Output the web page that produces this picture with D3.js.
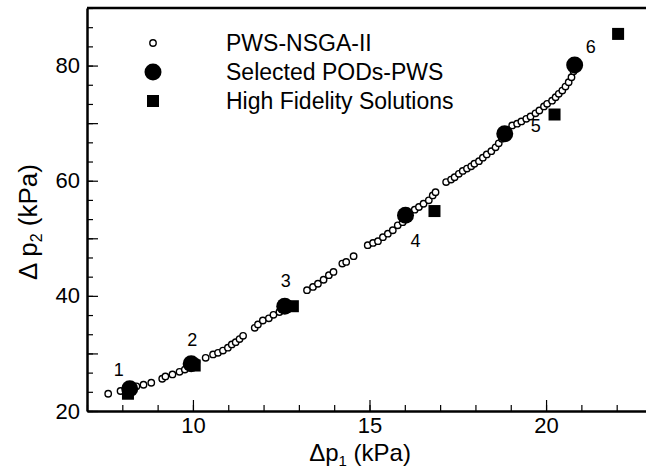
<!DOCTYPE html>
<html lang="en">
<head>
<meta charset="UTF-8">
<title>Pareto front</title>
<script src="https://cdn.jsdelivr.net/npm/d3@7"></script>
<style>
    body { margin: 0; background: #fff; }
    svg text { font-family: "Liberation Sans", Arial, sans-serif; fill: #000; }
    .axis path, .axis line { stroke: #000; }
    .axis path { stroke-width: 2.5; }
    .axis line { stroke-width: 1.2; }
</style>
</head>
<body>
<div class="chart"></div>
<script>
// PWS-NSGA-II front (hollow circles)
var nsgaX = [7.60, 7.95, 8.10, 8.40, 8.60, 8.82, 9.13, 9.22, 9.42, 9.62, 9.77,
    10.10, 10.36, 10.57, 10.71, 10.85, 10.99, 11.10, 11.21, 11.32, 11.42,
    11.75, 11.84, 11.98, 12.15, 12.28, 12.45, 12.55,
    13.23, 13.40, 13.54, 13.70, 13.85, 13.98, 14.23, 14.34, 14.55,
    14.95, 15.10, 15.24, 15.38, 15.52, 15.66, 15.80, 15.94, 16.10,
    16.28, 16.40, 16.53, 16.68, 16.79, 16.87,
    17.17, 17.31, 17.41, 17.53, 17.64, 17.76, 17.88, 17.97, 18.10, 18.21, 18.32, 18.45, 18.57, 18.66, 18.75,
    18.90, 19.04, 19.18, 19.30, 19.44, 19.56, 19.70, 19.81, 19.94, 20.03, 20.17, 20.27, 20.36, 20.46, 20.55, 20.64, 20.72, 20.78];
var nsgaY = [23.0, 23.47, 23.7, 24.28, 24.56, 24.91, 25.6, 26.0, 26.36, 26.8, 27.2,
    28.5, 29.24, 29.83, 30.1, 30.5, 31.0, 31.56, 31.96, 32.5, 33.06,
    34.45, 35.03, 35.72, 36.1, 36.7, 37.2, 37.7,
    40.98, 41.55, 42.1, 42.8, 43.6, 44.15, 45.6, 45.9, 46.9,
    48.8, 49.2, 49.5, 50.2, 50.8, 51.4, 52.25, 52.8, 54.3,
    54.97, 55.43, 56.0, 56.6, 57.45, 58.0,
    59.76, 60.2, 60.6, 61.2, 61.7, 62.1, 62.5, 62.95, 63.4, 64.0, 64.56, 65.13, 65.8, 66.5, 67.3,
    68.8, 69.6, 69.9, 70.3, 70.75, 71.15, 71.7, 72.2, 72.9, 73.36, 73.9, 74.5, 75.1, 75.66, 76.35, 77.1, 77.97, 79.0];

// Selected PODs-PWS (filled circles)
var podX = [8.21, 9.95, 12.60, 16.02, 18.83, 20.81];
var podY = [23.87, 28.2, 38.2, 54.0, 68.15, 80.1];
var podLabels = ["1", "2", "3", "4", "5", "6"];

// High Fidelity Solutions (squares)
var hfX = [8.16, 10.05, 12.83, 16.84, 20.24, 22.04];
var hfY = [23.0, 27.9, 38.2, 54.73, 71.5, 85.5];

var xMinor = d3.range(7, 23, 1);
var xMajor = [10, 15, 20];
var yMinor = d3.range(0, 22).map(function(i) { return 20 + i * 10 / 3; });
var yMajor = [20, 30, 40, 50, 60, 70, 80];
var yLabelled = [20, 40, 60, 80];

var legendNames = ["PWS-NSGA-II", "Selected PODs-PWS", "High Fidelity Solutions"];

(function()
{
    "use strict";

    var width = 646, height = 475;
    var plot = { left: 87, top: 8, bottom: 411, right: 652 };

    // pixel offsets of the point numbers, relative to each selected POD
    var labelOffset = [[-11, -19], [1, -24], [1, -26], [10, 25], [31, -8], [16, -18]];

    var x = d3.scaleLinear().domain([7, 23]).range([plot.left, plot.right]);
    var y = d3.scaleLinear().domain([20, 90]).range([plot.bottom, plot.top]);

    var svg = d3.select(".chart").append("svg")
        .attr("width", width)
        .attr("height", height)
        .attr("viewBox", [0, 0, width, height].join(" "));

    // axes: minor ticks first, then major ones with labels
    svg.append("g").attr("class", "axis")
        .attr("transform", "translate(0," + plot.bottom + ")")
        .call(d3.axisBottom(x).tickValues(xMinor).tickSizeInner(-6).tickSizeOuter(0).tickFormat(""));
    svg.append("g").attr("class", "axis")
        .attr("transform", "translate(0," + plot.bottom + ")")
        .call(d3.axisBottom(x).tickValues(xMajor).tickSizeInner(-11).tickSizeOuter(0).tickPadding(6))
        .call(function(g) { g.select(".domain").remove(); })
        .selectAll("text").style("font-size", "22px").attr("font-family", null);

    svg.append("g").attr("class", "axis")
        .attr("transform", "translate(" + plot.left + ",0)")
        .call(d3.axisLeft(y).tickValues(yMinor).tickSizeInner(-6).tickSizeOuter(0).tickFormat(""));
    svg.append("g").attr("class", "axis")
        .attr("transform", "translate(" + plot.left + ",0)")
        .call(d3.axisLeft(y).tickValues(yMajor).tickSizeInner(-11).tickSizeOuter(0).tickPadding(7)
            .tickFormat(function(d) { return yLabelled.indexOf(d) >= 0 ? d : ""; }))
        .call(function(g) { g.select(".domain").remove(); })
        .selectAll("text").style("font-size", "22px").attr("font-family", null);

    // top frame line
    svg.append("line")
        .attr("x1", plot.left).attr("x2", plot.right)
        .attr("y1", y(90)).attr("y2", y(90))
        .attr("stroke", "#000").attr("stroke-width", 2.5);

    // axis titles
    var xt = svg.append("text")
        .attr("x", 360).attr("y", 461)
        .attr("text-anchor", "middle")
        .style("font-size", "24px");
    xt.append("tspan").text("\u0394p");
    xt.append("tspan").attr("baseline-shift", "-30%").style("font-size", "15px").text("1");
    xt.append("tspan").text(" (kPa)");

    var yt = svg.append("text")
        .attr("transform", "translate(37,222) rotate(-90)")
        .attr("text-anchor", "middle")
        .style("font-size", "26px");
    yt.append("tspan").text("\u0394 p");
    yt.append("tspan").attr("baseline-shift", "-30%").style("font-size", "16px").text("2");
    yt.append("tspan").text(" (kPa)");

    // data
    var nsga = d3.zip(nsgaX, nsgaY);
    var pods = d3.zip(podX, podY, podLabels);
    var hf = d3.zip(hfX, hfY);

    svg.append("g").selectAll("circle").data(nsga).enter().append("circle")
        .attr("cx", function(d) { return x(d[0]); })
        .attr("cy", function(d) { return y(d[1]); })
        .attr("r", 3.2)
        .attr("fill", "#fff")
        .attr("stroke", "#000")
        .attr("stroke-width", 1.4);

    svg.append("g").selectAll("circle").data(pods).enter().append("circle")
        .attr("cx", function(d) { return x(d[0]); })
        .attr("cy", function(d) { return y(d[1]); })
        .attr("r", 8.5)
        .attr("fill", "#000");

    svg.append("g").selectAll("rect").data(hf).enter().append("rect")
        .attr("x", function(d) { return x(d[0]) - 6; })
        .attr("y", function(d) { return y(d[1]) - 6; })
        .attr("width", 12).attr("height", 12)
        .attr("fill", "#000");

    svg.append("g").selectAll("text").data(pods).enter().append("text")
        .attr("x", function(d, i) { return x(d[0]) + labelOffset[i][0]; })
        .attr("y", function(d, i) { return y(d[1]) + labelOffset[i][1] + 6.5; })
        .attr("text-anchor", "middle")
        .style("font-size", "18px")
        .text(function(d) { return d[2]; });

    // legend
    var legend = svg.append("g").attr("transform", "translate(153,43)");
    var rowH = 29;
    legend.append("circle").attr("cx", 0).attr("cy", 0).attr("r", 3.2)
        .attr("fill", "#fff").attr("stroke", "#000").attr("stroke-width", 1.4);
    legend.append("circle").attr("cx", 0).attr("cy", rowH).attr("r", 8.5).attr("fill", "#000");
    legend.append("rect").attr("x", -6).attr("y", 2 * rowH - 6).attr("width", 12).attr("height", 12).attr("fill", "#000");
    legend.selectAll("text.name").data(legendNames).enter().append("text")
        .attr("class", "name")
        .attr("x", 73)
        .attr("y", function(d, i) { return i * rowH + 8.3; })
        .style("font-size", "23px")
        .text(function(d) { return d; });
})();
</script>
</body>
</html>
